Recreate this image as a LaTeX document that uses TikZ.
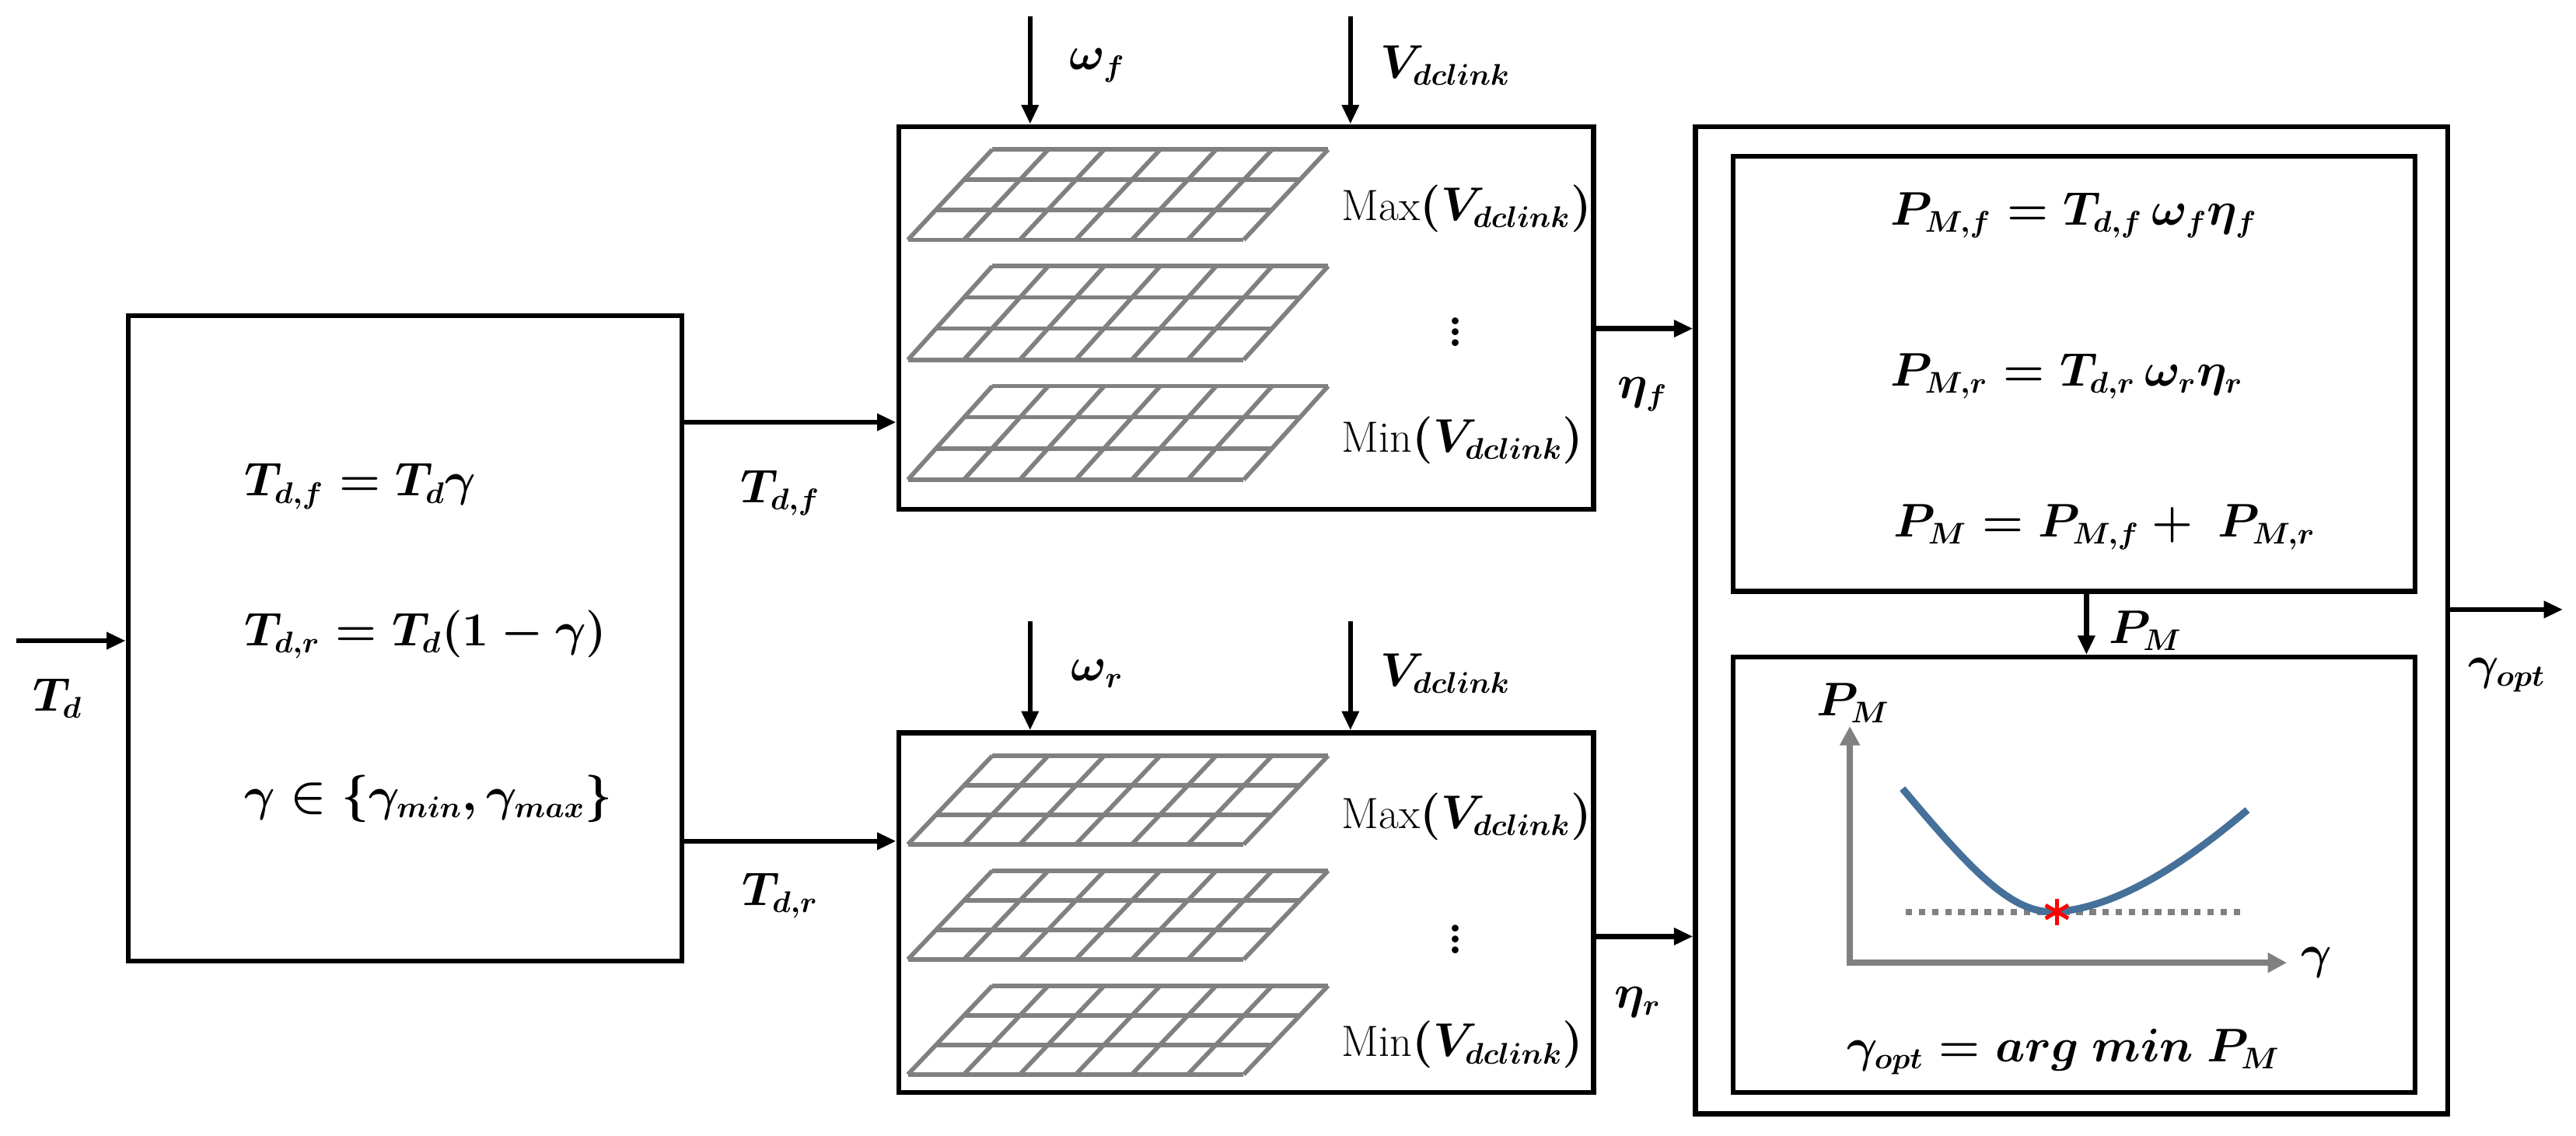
\documentclass[tikz,border=0pt]{standalone}
\usepackage{amsmath}
\usepackage{amssymb}
\usepackage{bm}
\usetikzlibrary{arrows.meta,calc,fit,positioning}

% one look-up table drawn as a slanted 3x6 grid: left x, top y, bottom y
\newcommand{\lutgrid}[3]{%
	\foreach \v in {0,1,2,3}
		\draw[grid line] ({#1+5.6+\v*17.13},{#3-\v*(#3-#2)/3}) -- ++(204.4,0);
	\foreach \u in {0,...,6}
		\draw[grid line] ({#1+5.6+\u*34.07},#3) -- ++(51.4,{#2-#3});
}

\begin{document}
\begin{tikzpicture}[
		x=0.02113cm,
		y=-0.02113cm,
		>={Triangle[length=7pt,width=6pt]},
		block/.style={draw,line width=1.8pt,inner sep=0pt},
		flow/.style={->,line width=1.8pt},
		grid line/.style={draw=gray,line width=1.6pt},
		axis/.style={draw=gray,line width=2.4pt,{Triangle[length=7pt,width=7pt]}-{Triangle[length=7pt,width=7pt]}},
		curve/.style={draw={rgb,255:red,69;green,112;blue,154},line width=2.6pt},
		lbl/.style={font=\fontsize{16}{19}\selectfont\boldmath}]

	\useasboundingbox (0,0) rectangle (1568,691);

	% blocks
	\node[block,fit={(78,192) (415,585)}] (split) {};
	\node[block,fit={(547,77) (970,310)}] (lutf) {};
	\node[block,fit={(547,446) (970,665)}] (lutr) {};
	\node[block,fit={(1032,77) (1490,678)}] (opt) {};
	\node[block,fit={(1055,95) (1470,360)}] (power) {};
	\node[block,fit={(1055,400) (1470,665)}] (search) {};

	% torque split
	\coordinate (tdin) at (10,390);
	\draw[flow] (tdin) -- (tdin -| split.west);
	\node[lbl] (td) at (35,425) {$T_d$};
	\node[lbl,anchor=west] (eqf) at (143,296) {$T_{d,f} = T_d\bm{\gamma}$};
	\node[lbl,anchor=west] (eqr) at (143,386) {$T_{d,r} = T_d(1-\bm{\gamma})$};
	\node[lbl,anchor=west] (eqg) at (143,486) {$\bm{\gamma} \in \{\bm{\gamma}_{min}, \bm{\gamma}_{max}\}$};

	\coordinate (tdf) at (415,257);
	\draw[flow] (tdf) -- (tdf -| lutf.west);
	\node[lbl] (tdflbl) at (475,300) {$T_{d,f}$};
	\coordinate (tdr) at (415,512);
	\draw[flow] (tdr) -- (tdr -| lutr.west);
	\node[lbl] (tdrlbl) at (475,545) {$T_{d,r}$};

	% efficiency maps
	\coordinate (wf) at (627,10);
	\draw[flow] (wf) -- (wf |- lutf.north);
	\node[lbl] (wflbl) at (668,40) {$\bm{\omega}_f$};
	\coordinate (vf) at (822,10);
	\draw[flow] (vf) -- (vf |- lutf.north);
	\node[lbl] (vflbl) at (880,40) {$V_{dclink}$};
	\coordinate (wr) at (627,378);
	\draw[flow] (wr) -- (wr |- lutr.north);
	\node[lbl] (wrlbl) at (668,410) {$\bm{\omega}_r$};
	\coordinate (vr) at (822,378);
	\draw[flow] (vr) -- (vr |- lutr.north);
	\node[lbl] (vrlbl) at (880,410) {$V_{dclink}$};

	\lutgrid{547}{91}{146}
	\lutgrid{547}{162}{219}
	\lutgrid{547}{235}{292}
	\lutgrid{547}{460}{514}
	\lutgrid{547}{530}{584}
	\lutgrid{547}{600}{654}

	\node[lbl,anchor=west] (maxf) at (811,127) {Max$(V_{dclink})$};
	\node[lbl,font=\LARGE\bfseries,inner sep=0pt] (dotf) at (886,197) {$\vdots$};
	\node[lbl,anchor=west] (minf) at (811,268) {Min$(V_{dclink})$};
	\node[lbl,anchor=west] (maxr) at (811,497) {Max$(V_{dclink})$};
	\node[lbl,font=\LARGE\bfseries,inner sep=0pt] (dotr) at (886,567) {$\vdots$};
	\node[lbl,anchor=west] (minr) at (811,636) {Min$(V_{dclink})$};

	\coordinate (etaf) at (970,200);
	\draw[flow] (etaf) -- (etaf -| opt.west);
	\node[lbl] (etaflbl) at (1000,240) {$\bm{\eta}_f$};
	\coordinate (etar) at (970,570);
	\draw[flow] (etar) -- (etar -| opt.west);
	\node[lbl] (etarlbl) at (997,610) {$\bm{\eta}_r$};

	% power and optimum
	\node[lbl,anchor=west] (pmf) at (1145,131) {$P_{M,f} = T_{d,f}\,\bm{\omega}_f\bm{\eta}_f$};
	\node[lbl,anchor=west] (pmr) at (1145,229) {$P_{M,r} = T_{d,r}\,\bm{\omega}_r\bm{\eta}_r$};
	\node[lbl,anchor=west] (pm) at (1147,321) {$P_M = P_{M,f} +\ P_{M,r}$};

	\coordinate (pmout) at (1270,360);
	\draw[flow] (pmout) -- (pmout |- search.north);
	\node[lbl] (pmlbl) at (1306,384) {$P_M$};

	\coordinate (gout) at (1560,371);
	\draw[flow] (gout -| opt.east) -- (gout);
	\node[lbl] (goutlbl) at (1526,411) {$\bm{\gamma}_{opt}$};

	\coordinate (orig) at (1126,586);
	\coordinate (ytop) at (1126,442);
	\coordinate (xend) at (1392,586);
	\draw[axis] (ytop) -- (orig) -- (xend);
	\node[lbl] (ylbl) at (1128,428) {$P_M$};
	\node[lbl] (xlbl) at (1410,586) {$\bm{\gamma}$};
	\draw[gray,line width=2.2pt,dash pattern=on 2.4pt off 2.4pt] (1160,555) -- (1366,555);
	\draw[curve] (1158,480) .. controls (1200,530) and (1225,557) .. (1252,555)
		.. controls (1290,552) and (1330,525) .. (1368,493);
	\foreach \a in {90,30,-30}
		\draw[red,line width=1.4pt] (1252,555) ++(\a:8) -- ++(\a+180:16);
	\node[lbl] (argmin) at (1256,640) {$\bm{\gamma}_{opt} = arg\ min\ P_M$};
\end{tikzpicture}
\end{document}
